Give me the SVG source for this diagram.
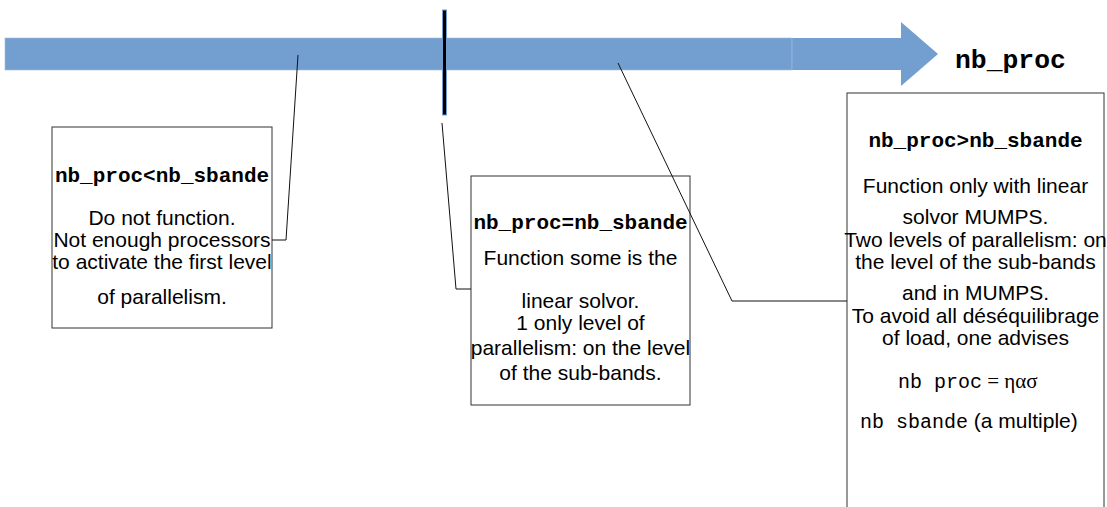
<svg xmlns="http://www.w3.org/2000/svg" width="1107" height="507" viewBox="0 0 1107 507">
<style>
.box{fill:#fff;stroke:#333;stroke-width:1}
.conn{fill:none;stroke:#111;stroke-width:1}
.t{font-family:"Liberation Sans",Arial,sans-serif;font-size:21px;fill:#000;text-anchor:middle}
.m{font-family:"Liberation Mono","Courier New",monospace;font-size:21px;font-weight:bold;fill:#000;text-anchor:middle}
.mr{font-family:"Liberation Mono","Courier New",monospace;font-size:20px;fill:#000}
</style>
<rect width="1107" height="507" fill="#fff"/>
<g id="axis">
<rect x="5" y="38" width="787" height="32" fill="#729fcf" stroke="#9dbde0" stroke-width="0.6"/>
<polygon points="792,38 901,38 901,22 938,54 901,86 901,70 792,70" fill="#729fcf"/>
<line x1="792" y1="38.5" x2="792" y2="69.5" stroke="#8fb3dc" stroke-width="1"/>
<rect x="442.5" y="10" width="4" height="105" fill="#000" stroke="#729fcf" stroke-width="1"/>
<text x="955" y="68" font-family="'Liberation Mono','Courier New',monospace" font-size="26.4" font-weight="bold">nb_proc</text>
</g>
<g id="node-less">
<rect class="box" x="52" y="127" width="220" height="201"/>
<text class="m" x="162" y="182">nb_proc&lt;nb_sbande</text>
<text class="t" x="162" y="225">Do not function.</text>
<text class="t" x="162" y="247">Not enough processors</text>
<text class="t" x="162" y="269">to activate the first level</text>
<text class="t" x="162" y="304">of parallelism.</text>
</g>
<g id="node-equal">
<rect class="box" x="471" y="176" width="219" height="229"/>
<text class="m" x="580.5" y="229">nb_proc=nb_sbande</text>
<text class="t" x="580.5" y="265">Function some is the</text>
<text class="t" x="580.5" y="308">linear solvor.</text>
<text class="t" x="580.5" y="330">1 only level of</text>
<text class="t" x="580.5" y="355" font-size="20.7">parallelism: on the level</text>
<text class="t" x="580.5" y="380">of the sub-bands.</text>
</g>
<g id="node-greater">
<rect class="box" x="847" y="93" width="257" height="420"/>
<text class="m" x="975.5" y="147">nb_proc&gt;nb_sbande</text>
<text class="t" x="975.5" y="193" font-size="21.6">Function only with linear</text>
<text class="t" x="975.5" y="224">solvor MUMPS.</text>
<text class="t" x="975.5" y="247" font-size="20.4">Two levels of parallelism: on</text>
<text class="t" x="975.5" y="269">the level of the sub-bands</text>
<text class="t" x="975.5" y="300">and in MUMPS.</text>
<text class="t" x="975.5" y="323">To avoid all déséquilibrage</text>
<text class="t" x="975.5" y="345">of load, one advises</text>
<text x="898" y="388"><tspan class="mr">nb proc</tspan><tspan font-family="'Liberation Serif','Times New Roman',serif" font-size="21"> = ηασ</tspan></text>
<text x="860" y="428"><tspan class="mr">nb sbande</tspan><tspan font-family="'Liberation Sans',Arial,sans-serif" font-size="21"> (a multiple)</tspan></text>
</g>
<g id="connectors">
<polyline class="conn" points="298,55 286,240 272,240"/>
<polyline class="conn" points="442,123 456,289 471,289"/>
<polyline class="conn" points="618,63 732,301 847,301"/>
</g>
</svg>
